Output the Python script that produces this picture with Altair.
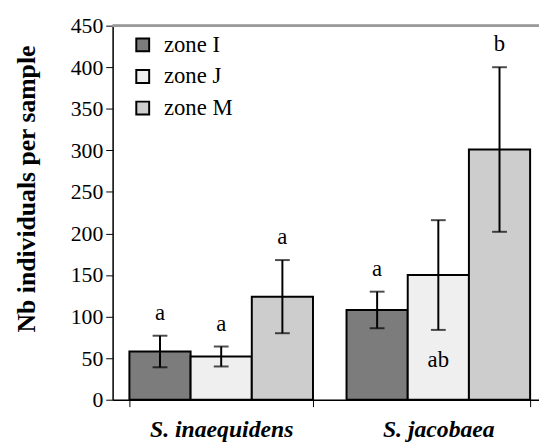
import altair as alt
import pandas as pd

species = ["S. inaequidens"] * 3 + ["S. jacobaea"] * 3
zones = ["zone I", "zone J", "zone M"] * 2
means = [58, 52, 124, 108, 150, 301]
errors = [19, 12, 44, 22, 66, 99]
letters = ["a", "a", "a", "a", "ab", "b"]
sides = ["above", "above", "above", "above", "below", "above"]

df = pd.DataFrame({
    "species": species,
    "zone": zones,
    "mean": means,
    "err": errors,
    "letter": letters,
    "side": sides,
})
df["lo"] = df["mean"] - df["err"]
df["hi"] = df["mean"] + df["err"]

zone_colors = ["#7c7c7c", "#efefef", "#cdcdcd"]
FONT = "Times New Roman, Liberation Serif, serif"
W = 432
H = 379
SORT = ["S. inaequidens", "S. jacobaea"]

x_enc = alt.X("species:N", sort=SORT,
              scale=alt.Scale(range=[0, 440], paddingInner=0.1545, paddingOuter=0.0773),
              axis=alt.Axis(title=None, labelFont=FONT, labelFontSize=24, labelFontWeight="bold",
                            labelFontStyle="italic", labelColor="black", labelAngle=0,
                            tickBand="extent", tickSize=7, tickColor="black", tickWidth=1,
                            domainColor="black", domainWidth=1.5, labelPadding=11,
                            grid=False))
xo_enc = alt.XOffset("zone:N", scale=alt.Scale(paddingInner=0, paddingOuter=0))

y_scale = alt.Scale(domain=[0, 450], nice=False)

bars = alt.Chart(df).mark_bar(stroke="black", strokeWidth=2).encode(
    x=x_enc, xOffset=xo_enc,
    y=alt.Y("mean:Q", scale=y_scale,
            axis=alt.Axis(title="Nb individuals per sample", titleFont=FONT, titleFontSize=26,
                          titleFontWeight="bold", titleColor="black",
                          titleX=-87, titleY=165, titleAngle=270, titleAlign="center",
                          titleBaseline="middle",
                          values=list(range(0, 451, 50)), labelFont=FONT, labelFontSize=22,
                          labelColor="black", tickSize=7, tickColor="black", tickWidth=1,
                          domainColor="black", domainWidth=1.5, labelPadding=3, grid=False)),
    fill=alt.Fill("zone:N", scale=alt.Scale(domain=["zone I", "zone J", "zone M"], range=zone_colors),
                  legend=alt.Legend(title=None, orient="none", legendX=19, legendY=8,
                                    symbolType="square", symbolSize=170, symbolStrokeColor="black",
                                    symbolStrokeWidth=2, labelFont=FONT, labelFontSize=23,
                                    labelColor="black", labelOffset=10, rowPadding=8, padding=0)),
)

rules = alt.Chart(df).mark_rule(color="black", strokeWidth=2).encode(
    x=alt.X("species:N", sort=SORT), xOffset="zone:N",
    y="lo:Q", y2="hi:Q")

caps_hi = alt.Chart(df).mark_tick(color="black", thickness=2, size=15, orient="horizontal").encode(
    x=alt.X("species:N", sort=SORT), xOffset="zone:N", y="hi:Q")
caps_lo = alt.Chart(df).mark_tick(color="black", thickness=2, size=15, orient="horizontal").encode(
    x=alt.X("species:N", sort=SORT), xOffset="zone:N", y="lo:Q")

txt_above = alt.Chart(df).transform_filter(alt.datum.side == "above").mark_text(
    font=FONT, fontSize=23, color="black", baseline="middle", dy=-23).encode(
    x=alt.X("species:N", sort=SORT), xOffset="zone:N",
    y="hi:Q", text="letter:N")
txt_below = alt.Chart(df).transform_filter(alt.datum.side == "below").mark_text(
    font=FONT, fontSize=23, color="black", baseline="middle", dy=31).encode(
    x=alt.X("species:N", sort=SORT), xOffset="zone:N",
    y="lo:Q", text="letter:N")

top_border = alt.Chart(df).mark_rule(color="#9a9a9a", strokeWidth=2).encode(
    x=alt.value(0), x2=alt.value(W + 10), y=alt.datum(450))

chart = alt.layer(bars, rules, caps_hi, caps_lo, txt_above, txt_below, top_border).properties(
    width=W, height=H,
    autosize=alt.AutoSizeParams(type="none"),
    padding={"left": 106, "top": 15, "right": 0, "bottom": 44},
).configure_view(stroke=None).configure(background="white")

chart.save("out.html", embed_options={"renderer": "svg", "actions": False})
